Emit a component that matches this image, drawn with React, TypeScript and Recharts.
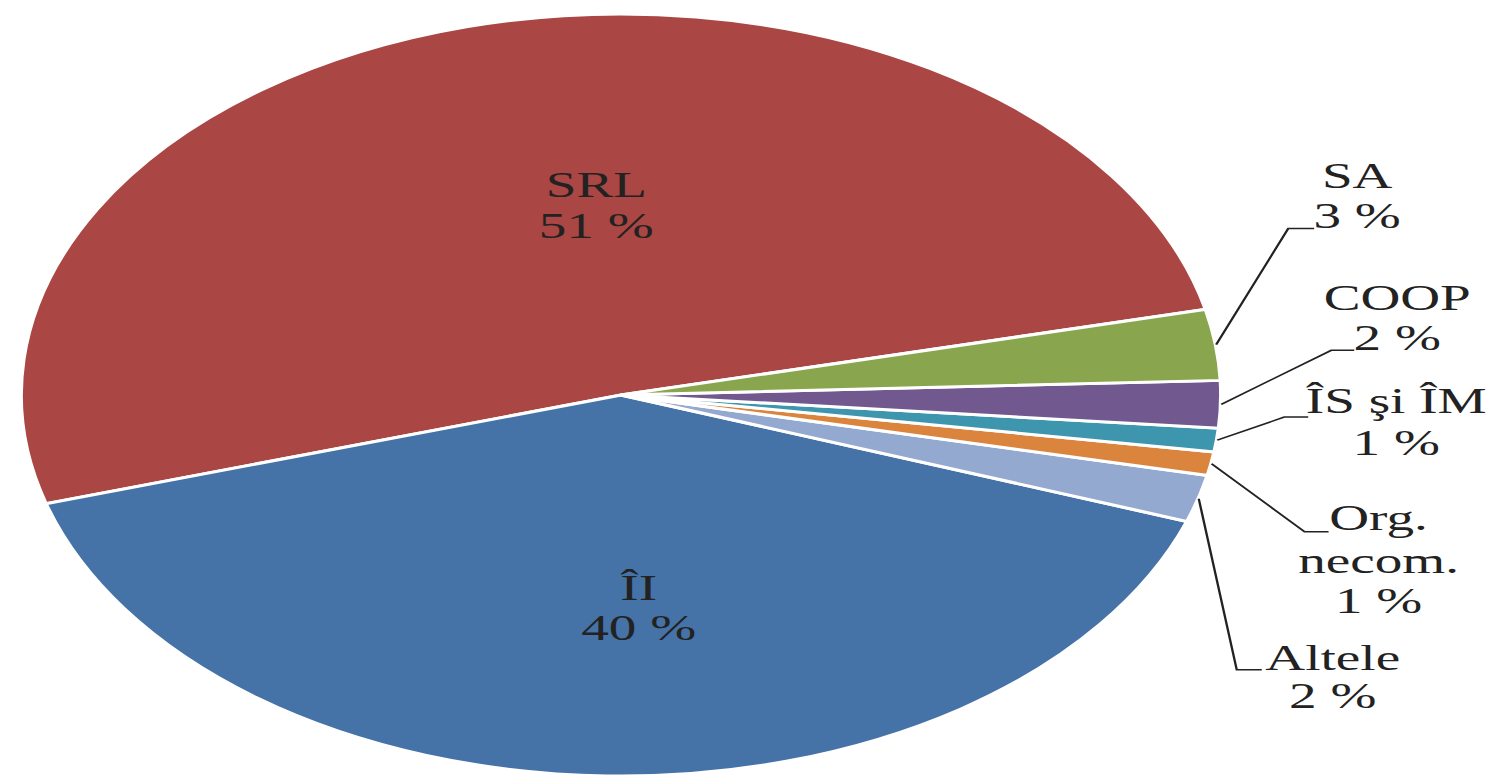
import React from "react";
import { PieChart, Pie, Cell } from "recharts";

// Slices, counter-clockwise from the SRL/SA boundary
const categories = ["SRL", "ÎI", "Altele", "Org. necom.", "ÎS şi ÎM", "COOP", "SA"];
const shares = [51, 40, 2, 1, 1, 2, 3];
const labelNames = [["SRL"], ["ÎI"], ["Altele"], ["Org.", "necom."], ["ÎS şi ÎM"], ["COOP"], ["SA"]];
const colors = ["#AA4643", "#4572A7", "#93A9CF", "#DB843D", "#3D96AE", "#71588F", "#89A54E"];

const data = categories.map((name, i) => ({ name, value: shares[i] }));

// the original picture is stretched horizontally, so we stretch too
const SX = 1.576;
const W = 1495 / SX;
const H = 784;
const FONT = "'Liberation Serif', 'Times New Roman', serif";
const FS = 35;
const RAD = Math.PI / 180;

// label layout, x offsets in page px (divided by SX later)
// inner: offset from point at 0.5R on mid angle; outer: elbow, line end, text x, baselines
const labelLayout: any[] = [
  { inner: true, dx: 52, dy: -14, gap: 41 },
  { inner: true, dx: 25, dy: 15, gap: 40 },
  { elbow: [38, 171], end: [63, 171], tx: 134, base: [171, 209] },
  { elbow: [93, 68], end: [117, 68], tx: 167, base: [66, 109, 149] },
  { elbow: [67, -23], end: [91, -23], tx: 179, base: [-27, 15] },
  { elbow: [110, -54], end: [133, -54], tx: 176, base: [-94, -54] },
  { elbow: [72, -116], end: [98, -116], tx: 141, base: [-157, -117] },
];

const textStyle = { fontFamily: FONT, fontSize: FS, fill: "#222" };

const renderLabel = (props: any) => {
  const { cx, cy, midAngle, outerRadius, index, value } = props;
  const lay = labelLayout[index];
  const lines = [...labelNames[index], `${value} %`];
  const cos = Math.cos(-midAngle * RAD);
  const sin = Math.sin(-midAngle * RAD);

  if (lay.inner) {
    const px = cx + 0.5 * outerRadius * cos + lay.dx / SX;
    const py = cy + 0.5 * outerRadius * sin + lay.dy;
    return (
      <g key={`lbl-${index}`}>
        {lines.map((t, i) => (
          <text key={i} x={px} y={py + i * lay.gap} textAnchor="middle" style={textStyle}>
            {t}
          </text>
        ))}
      </g>
    );
  }

  const ox = cx + outerRadius * cos;
  const oy = cy + outerRadius * sin;
  const pts = [
    [ox, oy],
    [ox + lay.elbow[0] / SX, oy + lay.elbow[1]],
    [ox + lay.end[0] / SX, oy + lay.end[1]],
  ];
  return (
    <g key={`lbl-${index}`}>
      <polyline points={pts.map((p) => p.join(",")).join(" ")} fill="none" stroke="#222" strokeWidth={1.5} />
      {lines.map((t, i) => (
        <text key={i} x={ox + lay.tx / SX} y={oy + lay.base[i]} textAnchor="middle" style={textStyle}>
          {t}
        </text>
      ))}
    </g>
  );
};

const App: React.FC = () => {
  return (
    <div
      style={{
        position: "absolute",
        left: 0,
        top: 0,
        width: W,
        height: H,
        transform: `scaleX(${SX})`,
        transformOrigin: "0 0",
        background: "#fff",
      }}
    >
      <PieChart width={W} height={H} margin={{ top: 0, right: 0, bottom: 0, left: 0 }}>
        <Pie
          data={data}
          dataKey="value"
          nameKey="name"
          cx={621 / SX}
          cy={395}
          outerRadius={381}
          startAngle={13}
          endAngle={373}
          stroke="#fff"
          strokeWidth={3}
          label={renderLabel}
          labelLine={false}
          isAnimationActive={false}
        >
          {data.map((entry, index) => (
            <Cell key={`cell-${index}`} fill={colors[index]} />
          ))}
        </Pie>
      </PieChart>
    </div>
  );
};

export default App;
